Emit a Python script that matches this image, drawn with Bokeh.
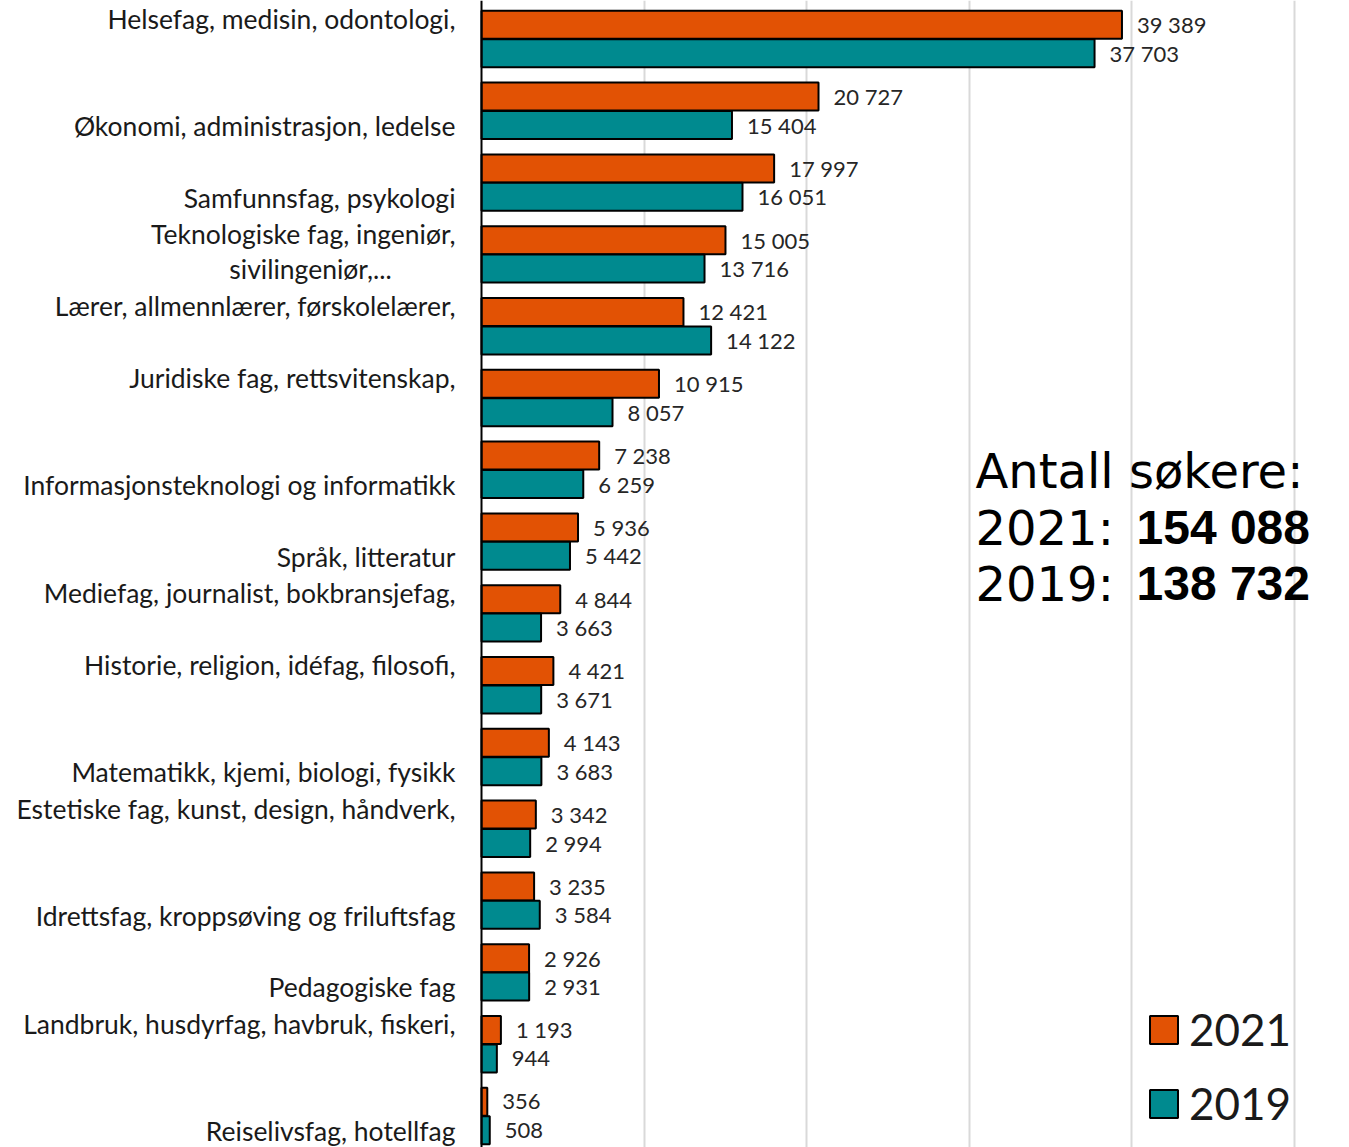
from bokeh.plotting import figure
from bokeh.models import Range1d, FixedTicker, Span, Legend, LegendItem, ColumnDataSource
from bokeh.core.properties import value
from bokeh.embed import file_html
from bokeh.resources import INLINE

# ---------------- data ----------------
label_upper = [
    "Helsefag, medisin, odontologi,", "", "", "Teknologiske fag, ingeniør,",
    "Lærer, allmennlærer, førskolelærer,", "Juridiske fag, rettsvitenskap,", "", "",
    "Mediefag, journalist, bokbransjefag,", "Historie, religion, idéfag, filosofi,", "",
    "Estetiske fag, kunst, design, håndverk,", "", "", "Landbruk, husdyrfag, havbruk, fiskeri,", "",
]
label_lower = [
    "", "Økonomi, administrasjon, ledelse", "Samfunnsfag, psykologi", "sivilingeniør,...",
    "", "", "Informasjonsteknologi og informatikk", "Språk, litteratur", "", "",
    "Matematikk, kjemi, biologi, fysikk", "", "Idrettsfag, kroppsøving og friluftsfag",
    "Pedagogiske fag", "", "Reiselivsfag, hotellfag",
]
v2021 = [39389, 20727, 17997, 15005, 12421, 10915, 7238, 5936, 4844, 4421, 4143, 3342, 3235, 2926, 1193, 356]
v2019 = [37703, 15404, 16051, 13716, 14122, 8057, 6259, 5442, 3663, 3671, 3683, 2994, 3584, 2931, 944, 508]
series_names = ["2021", "2019"]
grid_ticks = [10000, 20000, 30000, 40000, 50000]

ORANGE = "#E25204"
TEAL = "#008A8F"
LABEL_FONT = "Lato"

# ---------------- geometry ----------------
W, H = 1341, 1147
ORG = 0                # page offset of the canvas
PX0 = 481.0            # page x of value 0
SCALE = 813.0 / 50000  # px per unit
GY0 = 38.5             # page y of first group centre
PITCH = 71.8           # px per category


def xd(px):
    return (px - PX0) / SCALE


def yd(py):
    return (py - GY0) / PITCH


def fmt(v):
    return f"{v:,}".replace(",", " ")


n = len(v2021)
idx = list(range(n))
OFF = 0.198
BH = 0.39

src = ColumnDataSource(dict(
    y21=[i - OFF for i in idx], y19=[i + OFF for i in idx],
    v21=v2021, v19=v2019,
    t21=[fmt(v) for v in v2021], t19=[fmt(v) for v in v2019],
))

p = figure(width=W, height=H, output_backend="svg", toolbar_location=None,
           x_range=Range1d(xd(ORG), xd(ORG + W)), y_range=Range1d(yd(ORG + H), yd(ORG)),
           x_axis_location=None, y_axis_location=None, min_border=0)
p.outline_line_color = None
p.ygrid.visible = False
p.xgrid.ticker = FixedTicker(ticks=grid_ticks)
p.xgrid.grid_line_color = "#D9D9D9"
p.xgrid.grid_line_width = 2

r21 = p.hbar(y="y21", right="v21", left=0, height=BH, source=src,
             fill_color=ORANGE, line_color="black", line_width=2)
r19 = p.hbar(y="y19", right="v19", left=0, height=BH, source=src,
             fill_color=TEAL, line_color="black", line_width=2)

p.add_layout(Span(location=0, dimension="height", line_color="black", line_width=2))

# value labels
for ycol, tcol, xcol in (("y21", "t21", "v21"), ("y19", "t19", "v19")):
    p.text(x=xcol, y=ycol, text=tcol, source=src, x_offset=15,
           text_font=value(LABEL_FONT), text_font_size="22px", text_color="#262626",
           text_baseline="middle", text_align="left")

# category labels
FS = "26.5px"
up = [(i, t) for i, t in zip(idx, label_upper) if t]
lo = [(i, t) for i, t in zip(idx, label_lower) if t and not t.endswith("...")]
lo_c = [(i, t) for i, t in zip(idx, label_lower) if t.endswith("...")]
p.text(x=[xd(455)] * len(up), y=[i - OFF - 0.08 for i, _ in up], text=[t for _, t in up],
       text_font=value(LABEL_FONT), text_font_size=FS, text_color="#1A1A1A",
       text_baseline="middle", text_align="right")
p.text(x=[xd(455)] * len(lo), y=[i + OFF + 0.01 for i, _ in lo], text=[t for _, t in lo],
       text_font=value(LABEL_FONT), text_font_size=FS, text_color="#1A1A1A",
       text_baseline="middle", text_align="right")
p.text(x=[xd(310)] * len(lo_c), y=[i + OFF + 0.01 for i, _ in lo_c], text=[t for _, t in lo_c],
       text_font=value(LABEL_FONT), text_font_size=FS, text_color="#1A1A1A",
       text_baseline="middle", text_align="center")

# totals annotation
tot21 = sum(v2021)
tot19 = sum(v2019)
p.text(x=[xd(975)] * 3, y=[yd(470), yd(527), yd(583)],
       text=["Antall søkere:", f"{series_names[0]}: ", f"{series_names[1]}: "],
       text_font=value("DejaVu Sans"), text_font_size="48px", text_color="black",
       text_baseline="alphabetic", text_align="left")
p.text(x=[xd(1136)] * 2, y=[yd(527), yd(583)], text=[fmt(tot21), fmt(tot19)],
       text_font=value("Liberation Sans"), text_font_style="bold", text_font_size="48px",
       text_color="black", text_baseline="alphabetic", text_align="left")

legend = Legend(items=[LegendItem(label=series_names[0], renderers=[r21]),
                       LegendItem(label=series_names[1], renderers=[r19])],
                location=(1146, 18))
legend.label_text_font = LABEL_FONT
legend.label_text_font_size = "44px"
legend.label_text_color = "#1A1A1A"
legend.glyph_width = 35
legend.glyph_height = 35
legend.label_standoff = 8
legend.spacing = 22
legend.padding = 12
legend.margin = 0
legend.border_line_color = None
legend.background_fill_color = "white"
legend.background_fill_alpha = 1.0
p.add_layout(legend)

open("out.html", "w").write(file_html(p, INLINE))
